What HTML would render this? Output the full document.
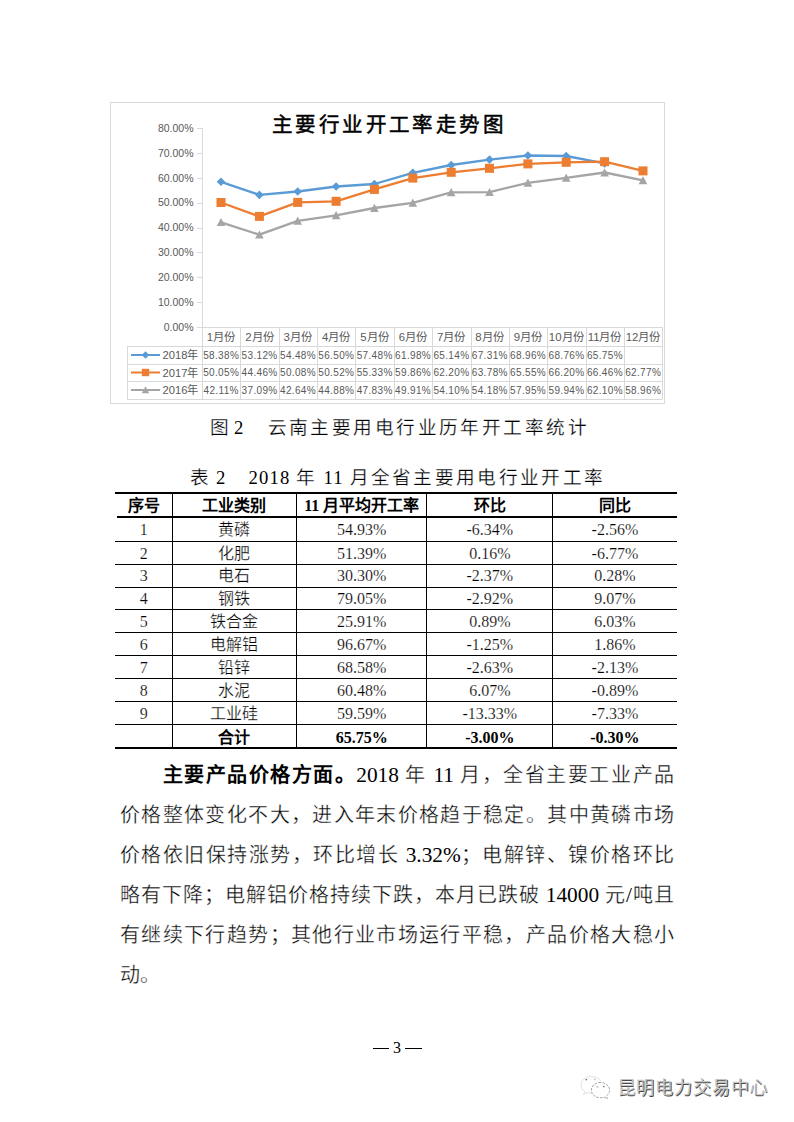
<!DOCTYPE html>
<html lang="zh-CN">
<head>
<meta charset="utf-8">
<style>
html,body{margin:0;padding:0;background:#fff;}
body{width:794px;height:1122px;position:relative;overflow:hidden;font-family:"Liberation Serif",serif;color:#000;}
.chart{position:absolute;left:0;top:0;}
.chart text{font-family:"Liberation Sans",sans-serif;}
.chart .yl{font-size:10.5px;fill:#595959;text-anchor:end;}
.chart .hd{font-size:11.4px;fill:#595959;text-anchor:middle;}
.chart .dv{font-size:10px;letter-spacing:0.35px;fill:#595959;text-anchor:middle;}
.chart .lg{font-size:11.2px;fill:#595959;text-anchor:end;}
.chart .tt{font-size:20.5px;font-weight:normal;fill:#000;stroke:#000;stroke-width:0.5px;letter-spacing:3.4px;}
.ab{position:absolute;white-space:nowrap;}
.cap{font-size:18.67px;line-height:24px;}
.cj{letter-spacing:2.6px;}
.cap.k,.cap.cj{-webkit-text-stroke:0.25px #fff;}
.cell{-webkit-text-stroke:0.2px #fff;}
.cell.k{-webkit-text-stroke:0.25px #fff;}
.cell.b{-webkit-text-stroke:0;}
.tbl{position:absolute;left:0;top:0;}
.t-h{position:absolute;height:2px;background:#000;}
.t-v{position:absolute;width:1px;background:#000;}
.cell{position:absolute;text-align:center;font-size:16px;line-height:22px;white-space:nowrap;}
.cell.b{font-weight:bold;}
.line{-webkit-text-stroke:0.35px #fff;position:absolute;left:120px;width:554px;font-size:20px;line-height:40px;height:40px;white-space:nowrap;text-align:justify;text-align-last:justify;}
.pn{position:absolute;font-size:16px;line-height:20px;}
.d{font-size:21.33px;-webkit-text-stroke:0;}
.line b{-webkit-text-stroke:0;}
.dash{position:absolute;height:1.2px;background:#000;}
.wm{position:absolute;left:617.5px;top:1074.5px;font-family:"Liberation Sans",sans-serif;font-size:18px;line-height:26px;letter-spacing:0.9px;color:#c4c4c4;text-shadow:0.7px 0.7px 0.6px #4a4a4a;}
</style>
</head>
<body>
<svg class="chart" width="794" height="410" viewBox="0 0 794 410">
<rect x="110.5" y="102.5" width="554" height="301" fill="#fff" stroke="#d9d9d9" stroke-width="1"/>
<path d="M202.5 128V327" stroke="#d9d9d9" stroke-width="1" fill="none"/>
<path d="M197 128.5H202.0M197 153.5H202.0M197 178.5H202.0M197 203.5H202.0M197 228.5H202.0M197 252.5H202.0M197 277.5H202.0M197 302.5H202.0M197 327.5H202.0" stroke="#d9d9d9" stroke-width="1" fill="none"/>
<text x="193.5" y="131.8" class="yl">80.00%</text>
<text x="193.5" y="156.7" class="yl">70.00%</text>
<text x="193.5" y="181.6" class="yl">60.00%</text>
<text x="193.5" y="206.4" class="yl">50.00%</text>
<text x="193.5" y="231.3" class="yl">40.00%</text>
<text x="193.5" y="256.2" class="yl">30.00%</text>
<text x="193.5" y="281.1" class="yl">20.00%</text>
<text x="193.5" y="305.9" class="yl">10.00%</text>
<text x="193.5" y="330.8" class="yl">0.00%</text>
<path d="M202.0 327.5H662.3M127 346.5H662.3M127 364.5H662.3M127 381.5H662.3M127 399.5H662.3M127.5 346V399.5M202.5 327V399.5M240.5 327V399.5M279.5 327V399.5M317.5 327V399.5M355.5 327V399.5M394.5 327V399.5M432.5 327V399.5M471.5 327V399.5M509.5 327V399.5M547.5 327V399.5M586.5 327V399.5M624.5 327V399.5M662.5 327V399.5" stroke="#d9d9d9" stroke-width="1" fill="none"/>
<text x="221.0" y="341" class="hd">1月份</text>
<text x="259.4" y="341" class="hd">2月份</text>
<text x="297.7" y="341" class="hd">3月份</text>
<text x="336.1" y="341" class="hd">4月份</text>
<text x="374.4" y="341" class="hd">5月份</text>
<text x="412.8" y="341" class="hd">6月份</text>
<text x="451.2" y="341" class="hd">7月份</text>
<text x="489.5" y="341" class="hd">8月份</text>
<text x="527.9" y="341" class="hd">9月份</text>
<text x="566.2" y="341" class="hd">10月份</text>
<text x="604.6" y="341" class="hd">11月份</text>
<text x="643.0" y="341" class="hd">12月份</text>
<text x="221.2" y="358.6" class="dv">58.38%</text>
<text x="259.6" y="358.6" class="dv">53.12%</text>
<text x="298.0" y="358.6" class="dv">54.48%</text>
<text x="336.3" y="358.6" class="dv">56.50%</text>
<text x="374.7" y="358.6" class="dv">57.48%</text>
<text x="413.1" y="358.6" class="dv">61.98%</text>
<text x="451.4" y="358.6" class="dv">65.14%</text>
<text x="489.8" y="358.6" class="dv">67.31%</text>
<text x="528.1" y="358.6" class="dv">68.96%</text>
<text x="566.5" y="358.6" class="dv">68.76%</text>
<text x="604.9" y="358.6" class="dv">65.75%</text>
<text x="198.5" y="359.0" class="lg">2018年</text>
<text x="221.2" y="376.1" class="dv">50.05%</text>
<text x="259.6" y="376.1" class="dv">44.46%</text>
<text x="298.0" y="376.1" class="dv">50.08%</text>
<text x="336.3" y="376.1" class="dv">50.52%</text>
<text x="374.7" y="376.1" class="dv">55.33%</text>
<text x="413.1" y="376.1" class="dv">59.86%</text>
<text x="451.4" y="376.1" class="dv">62.20%</text>
<text x="489.8" y="376.1" class="dv">63.78%</text>
<text x="528.1" y="376.1" class="dv">65.55%</text>
<text x="566.5" y="376.1" class="dv">66.20%</text>
<text x="604.9" y="376.1" class="dv">66.46%</text>
<text x="643.2" y="376.1" class="dv">62.77%</text>
<text x="198.5" y="376.5" class="lg">2017年</text>
<text x="221.2" y="393.6" class="dv">42.11%</text>
<text x="259.6" y="393.6" class="dv">37.09%</text>
<text x="298.0" y="393.6" class="dv">42.64%</text>
<text x="336.3" y="393.6" class="dv">44.88%</text>
<text x="374.7" y="393.6" class="dv">47.83%</text>
<text x="413.1" y="393.6" class="dv">49.91%</text>
<text x="451.4" y="393.6" class="dv">54.10%</text>
<text x="489.8" y="393.6" class="dv">54.18%</text>
<text x="528.1" y="393.6" class="dv">57.95%</text>
<text x="566.5" y="393.6" class="dv">59.94%</text>
<text x="604.9" y="393.6" class="dv">62.10%</text>
<text x="643.2" y="393.6" class="dv">58.96%</text>
<text x="198.5" y="394.0" class="lg">2016年</text>
<polyline points="221.0,181.8 259.4,194.9 297.7,191.5 336.1,186.5 374.4,184.0 412.8,172.8 451.2,165.0 489.5,159.6 527.9,155.5 566.2,156.0 604.6,163.4" fill="none" stroke="#5b9bd5" stroke-width="2.3" stroke-linejoin="round"/>
<path d="M221.0 177.5L225.3 181.8L221.0 186.1L216.7 181.8Z" fill="#5b9bd5"/>
<path d="M259.4 190.6L263.7 194.9L259.4 199.2L255.1 194.9Z" fill="#5b9bd5"/>
<path d="M297.7 187.2L302.0 191.5L297.7 195.8L293.4 191.5Z" fill="#5b9bd5"/>
<path d="M336.1 182.2L340.4 186.5L336.1 190.8L331.8 186.5Z" fill="#5b9bd5"/>
<path d="M374.4 179.7L378.7 184.0L374.4 188.3L370.1 184.0Z" fill="#5b9bd5"/>
<path d="M412.8 168.5L417.1 172.8L412.8 177.1L408.5 172.8Z" fill="#5b9bd5"/>
<path d="M451.2 160.7L455.5 165.0L451.2 169.3L446.9 165.0Z" fill="#5b9bd5"/>
<path d="M489.5 155.3L493.8 159.6L489.5 163.9L485.2 159.6Z" fill="#5b9bd5"/>
<path d="M527.9 151.2L532.2 155.5L527.9 159.8L523.6 155.5Z" fill="#5b9bd5"/>
<path d="M566.2 151.7L570.5 156.0L566.2 160.3L561.9 156.0Z" fill="#5b9bd5"/>
<path d="M604.6 159.1L608.9 163.4L604.6 167.7L600.3 163.4Z" fill="#5b9bd5"/>
<polyline points="221.0,202.5 259.4,216.4 297.7,202.4 336.1,201.3 374.4,189.4 412.8,178.1 451.2,172.3 489.5,168.3 527.9,163.9 566.2,162.3 604.6,161.7 643.0,170.9" fill="none" stroke="#ed7d31" stroke-width="2.3" stroke-linejoin="round"/>
<rect x="216.5" y="198.0" width="9.0" height="9.0" fill="#ed7d31"/>
<rect x="254.9" y="211.9" width="9.0" height="9.0" fill="#ed7d31"/>
<rect x="293.2" y="197.9" width="9.0" height="9.0" fill="#ed7d31"/>
<rect x="331.6" y="196.8" width="9.0" height="9.0" fill="#ed7d31"/>
<rect x="369.9" y="184.9" width="9.0" height="9.0" fill="#ed7d31"/>
<rect x="408.3" y="173.6" width="9.0" height="9.0" fill="#ed7d31"/>
<rect x="446.7" y="167.8" width="9.0" height="9.0" fill="#ed7d31"/>
<rect x="485.0" y="163.8" width="9.0" height="9.0" fill="#ed7d31"/>
<rect x="523.4" y="159.4" width="9.0" height="9.0" fill="#ed7d31"/>
<rect x="561.7" y="157.8" width="9.0" height="9.0" fill="#ed7d31"/>
<rect x="600.1" y="157.2" width="9.0" height="9.0" fill="#ed7d31"/>
<rect x="638.5" y="166.4" width="9.0" height="9.0" fill="#ed7d31"/>
<polyline points="221.0,222.3 259.4,234.7 297.7,220.9 336.1,215.4 374.4,208.0 412.8,202.8 451.2,192.4 489.5,192.2 527.9,182.8 566.2,177.9 604.6,172.5 643.0,180.3" fill="none" stroke="#a5a5a5" stroke-width="2.3" stroke-linejoin="round"/>
<path d="M221.0 218.0L225.3 226.1L216.7 226.1Z" fill="#a5a5a5"/>
<path d="M259.4 230.4L263.7 238.6L255.1 238.6Z" fill="#a5a5a5"/>
<path d="M297.7 216.6L302.0 224.8L293.4 224.8Z" fill="#a5a5a5"/>
<path d="M336.1 211.1L340.4 219.2L331.8 219.2Z" fill="#a5a5a5"/>
<path d="M374.4 203.7L378.7 211.9L370.1 211.9Z" fill="#a5a5a5"/>
<path d="M412.8 198.5L417.1 206.7L408.5 206.7Z" fill="#a5a5a5"/>
<path d="M451.2 188.1L455.5 196.3L446.9 196.3Z" fill="#a5a5a5"/>
<path d="M489.5 187.9L493.8 196.1L485.2 196.1Z" fill="#a5a5a5"/>
<path d="M527.9 178.5L532.2 186.7L523.6 186.7Z" fill="#a5a5a5"/>
<path d="M566.2 173.6L570.5 181.8L561.9 181.8Z" fill="#a5a5a5"/>
<path d="M604.6 168.2L608.9 176.4L600.3 176.4Z" fill="#a5a5a5"/>
<path d="M643.0 176.0L647.3 184.2L638.7 184.2Z" fill="#a5a5a5"/>
<path d="M131 355.0H160" stroke="#5b9bd5" stroke-width="2"/>
<path d="M145.5 351.3L149.2 355.0L145.5 358.7L141.8 355.0Z" fill="#5b9bd5"/>
<path d="M131 372.5H160" stroke="#ed7d31" stroke-width="2"/>
<rect x="141.8" y="368.8" width="7.4" height="7.4" fill="#ed7d31"/>
<path d="M131 390.0H160" stroke="#a5a5a5" stroke-width="2"/>
<path d="M145.5 386.3L149.2 393.3L141.8 393.3Z" fill="#a5a5a5"/>
<text x="272" y="132" class="tt">主要行业开工率走势图</text>
</svg>
<div class="ab cap k" style="left:209.5px;top:416px;">图</div>
<div class="ab cap" style="left:234px;top:416px;">2</div>
<div class="ab cap cj" style="left:267.5px;top:416px;letter-spacing:2.43px">云南主要用电行业历年开工率统计</div>
<div class="ab cap k" style="left:189.5px;top:466px;">表</div>
<div class="ab cap" style="left:216px;top:466px;">2</div>
<div class="ab cap" style="left:248.5px;top:466px;letter-spacing:1.2px">2018</div>
<div class="ab cap k" style="left:295.5px;top:466px;">年</div>
<div class="ab cap" style="left:323.5px;top:466px;letter-spacing:1.2px">11</div>
<div class="ab cap cj" style="left:349.5px;top:466px;letter-spacing:2.33px">月全省主要用电行业开工率</div>
<div class="t-h" style="left:115px;top:492px;width:562px;height:2px"></div>
<div class="t-h" style="left:117px;top:516px;width:560px;height:1.6px"></div>
<div class="t-h" style="left:115px;top:541.1px;width:562px;height:1.1px"></div>
<div class="t-h" style="left:115px;top:563.8px;width:562px;height:1.1px"></div>
<div class="t-h" style="left:115px;top:586.5px;width:562px;height:1.1px"></div>
<div class="t-h" style="left:115px;top:609.2px;width:562px;height:1.1px"></div>
<div class="t-h" style="left:115px;top:632.0px;width:562px;height:1.1px"></div>
<div class="t-h" style="left:115px;top:654.9px;width:562px;height:1.1px"></div>
<div class="t-h" style="left:115px;top:677.8px;width:562px;height:1.1px"></div>
<div class="t-h" style="left:115px;top:700.7px;width:562px;height:1.1px"></div>
<div class="t-h" style="left:115px;top:723.7px;width:562px;height:1.1px"></div>
<div class="t-h" style="left:115px;top:747px;width:562px;height:2px"></div>
<div class="t-v" style="left:171.9px;top:494px;height:253px"></div>
<div class="t-v" style="left:296.0px;top:494px;height:253px"></div>
<div class="t-v" style="left:426.4px;top:494px;height:253px"></div>
<div class="t-v" style="left:552.3px;top:494px;height:253px"></div>
<div class="cell b" style="left:115px;width:57.4px;top:495.2px">序号</div>
<div class="cell b" style="left:172.4px;width:124.1px;top:495.2px">工业类别</div>
<div class="cell b" style="left:296.5px;width:130.4px;top:495.2px">11 月平均开工率</div>
<div class="cell b" style="left:426.9px;width:125.9px;top:495.2px">环比</div>
<div class="cell b" style="left:552.8px;width:124.2px;top:495.2px">同比</div>
<div class="cell" style="left:115px;width:57.4px;top:519.0px">1</div>
<div class="cell k" style="left:172.4px;width:124.1px;top:519.0px">黄磷</div>
<div class="cell" style="left:296.5px;width:130.4px;top:519.0px">54.93%</div>
<div class="cell" style="left:426.9px;width:125.9px;top:519.0px">-6.34%</div>
<div class="cell" style="left:552.8px;width:124.2px;top:519.0px">-2.56%</div>
<div class="cell" style="left:115px;width:57.4px;top:542.8px">2</div>
<div class="cell k" style="left:172.4px;width:124.1px;top:542.8px">化肥</div>
<div class="cell" style="left:296.5px;width:130.4px;top:542.8px">51.39%</div>
<div class="cell" style="left:426.9px;width:125.9px;top:542.8px">0.16%</div>
<div class="cell" style="left:552.8px;width:124.2px;top:542.8px">-6.77%</div>
<div class="cell" style="left:115px;width:57.4px;top:565.4px">3</div>
<div class="cell k" style="left:172.4px;width:124.1px;top:565.4px">电石</div>
<div class="cell" style="left:296.5px;width:130.4px;top:565.4px">30.30%</div>
<div class="cell" style="left:426.9px;width:125.9px;top:565.4px">-2.37%</div>
<div class="cell" style="left:552.8px;width:124.2px;top:565.4px">0.28%</div>
<div class="cell" style="left:115px;width:57.4px;top:588.1px">4</div>
<div class="cell k" style="left:172.4px;width:124.1px;top:588.1px">钢铁</div>
<div class="cell" style="left:296.5px;width:130.4px;top:588.1px">79.05%</div>
<div class="cell" style="left:426.9px;width:125.9px;top:588.1px">-2.92%</div>
<div class="cell" style="left:552.8px;width:124.2px;top:588.1px">9.07%</div>
<div class="cell" style="left:115px;width:57.4px;top:610.9px">5</div>
<div class="cell k" style="left:172.4px;width:124.1px;top:610.9px">铁合金</div>
<div class="cell" style="left:296.5px;width:130.4px;top:610.9px">25.91%</div>
<div class="cell" style="left:426.9px;width:125.9px;top:610.9px">0.89%</div>
<div class="cell" style="left:552.8px;width:124.2px;top:610.9px">6.03%</div>
<div class="cell" style="left:115px;width:57.4px;top:633.8px">6</div>
<div class="cell k" style="left:172.4px;width:124.1px;top:633.8px">电解铝</div>
<div class="cell" style="left:296.5px;width:130.4px;top:633.8px">96.67%</div>
<div class="cell" style="left:426.9px;width:125.9px;top:633.8px">-1.25%</div>
<div class="cell" style="left:552.8px;width:124.2px;top:633.8px">1.86%</div>
<div class="cell" style="left:115px;width:57.4px;top:656.6px">7</div>
<div class="cell k" style="left:172.4px;width:124.1px;top:656.6px">铅锌</div>
<div class="cell" style="left:296.5px;width:130.4px;top:656.6px">68.58%</div>
<div class="cell" style="left:426.9px;width:125.9px;top:656.6px">-2.63%</div>
<div class="cell" style="left:552.8px;width:124.2px;top:656.6px">-2.13%</div>
<div class="cell" style="left:115px;width:57.4px;top:679.5px">8</div>
<div class="cell k" style="left:172.4px;width:124.1px;top:679.5px">水泥</div>
<div class="cell" style="left:296.5px;width:130.4px;top:679.5px">60.48%</div>
<div class="cell" style="left:426.9px;width:125.9px;top:679.5px">6.07%</div>
<div class="cell" style="left:552.8px;width:124.2px;top:679.5px">-0.89%</div>
<div class="cell" style="left:115px;width:57.4px;top:702.5px">9</div>
<div class="cell k" style="left:172.4px;width:124.1px;top:702.5px">工业硅</div>
<div class="cell" style="left:296.5px;width:130.4px;top:702.5px">59.59%</div>
<div class="cell" style="left:426.9px;width:125.9px;top:702.5px">-13.33%</div>
<div class="cell" style="left:552.8px;width:124.2px;top:702.5px">-7.33%</div>
<div class="cell b" style="left:172.4px;width:124.1px;top:727.4px">合计</div>
<div class="cell b" style="left:296.5px;width:130.4px;top:727.4px">65.75%</div>
<div class="cell b" style="left:426.9px;width:125.9px;top:727.4px">-3.00%</div>
<div class="cell b" style="left:552.8px;width:124.2px;top:727.4px">-0.30%</div>
<div class="line" style="top:754.5px;"><span style="padding-left:42.66px"></span><b>主要产品价格方面。</b><span class="d">2018</span> 年 <span class="d">11</span> 月，全省主要工业产品</div>
<div class="line" style="top:794.5px;">价格整体变化不大，进入年末价格趋于稳定。其中黄磷市场</div>
<div class="line" style="top:834.5px;">价格依旧保持涨势，环比增长 <span class="d">3.32%</span>；电解锌、镍价格环比</div>
<div class="line" style="top:874.5px;">略有下降；电解铝价格持续下跌，本月已跌破 <span class="d">14000</span> 元<span class="d">/</span>吨且</div>
<div class="line" style="top:914.5px;">有继续下行趋势；其他行业市场运行平稳，产品价格大稳小</div>
<div class="line" style="top:954.5px;text-align-last:left;">动。</div>
<div class="dash" style="left:373px;top:1047.8px;width:16px"></div><div class="ab pn" style="left:393px;top:1038px;">3</div><div class="dash" style="left:405px;top:1047.8px;width:16.5px"></div>
<svg class="wx" width="40" height="34" viewBox="0 0 40 34" style="position:absolute;left:580px;top:1070px">
<path d="M21 10.5C18.5 8 14.5 6.5 11 6.5C5 6.5 1 10.5 1 15C1 18 2.5 20 4.8 21.5L3.5 24.5L7.5 22.6C9 23.2 10.2 23.4 11.5 23.4" fill="none" stroke="#dcdcdc" stroke-width="0.9"/>
<circle cx="6.3" cy="9.6" r="0.9" fill="#777"/><circle cx="14.8" cy="9.3" r="0.9" fill="#bbb"/>
<path d="M20.5 12.5C15.5 12.5 11.3 15.8 11.3 20.2C11.3 24.5 15.5 27.8 20.5 27.8C21.8 27.8 23 27.6 24 27.2L27.3 28.8L26.4 26C28.3 24.6 29.6 22.5 29.6 20.2C29.6 15.8 25.5 12.5 20.5 12.5Z" fill="none" stroke="#9a9a9a" stroke-width="0.9" stroke-dasharray="2.5 1.2"/>
<circle cx="17.4" cy="16.9" r="0.8" fill="none" stroke="#aaa" stroke-width="0.6"/><circle cx="23.9" cy="16.6" r="0.8" fill="#666"/>
</svg>
<div class="wm">昆明电力交易中心</div>
</body>
</html>
